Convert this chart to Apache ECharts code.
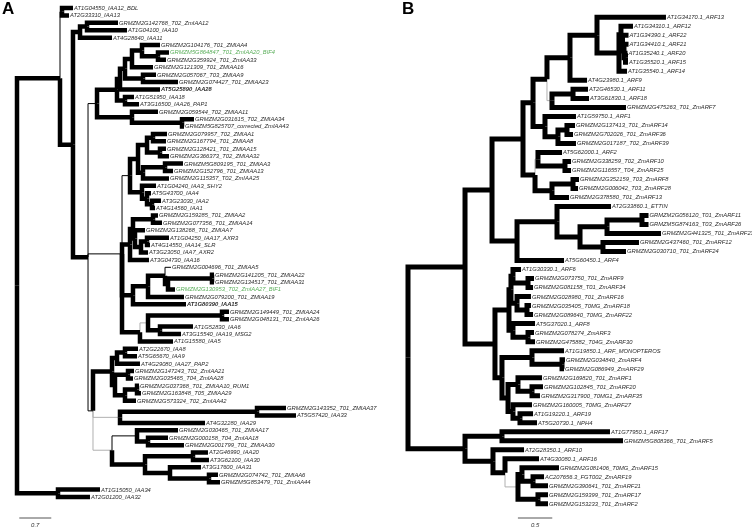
<!DOCTYPE html>
<html><head><meta charset="utf-8">
<script src="https://cdn.jsdelivr.net/npm/echarts@6/dist/echarts.min.js"></script>
<style>html,body{margin:0;padding:0;background:#fff}#c{width:752px;height:528px}</style>
</head><body><div id="c"></div>
<script>
// ---------- Panel A (Aux/IAA) ----------
const namesA = ["AT1G04550_IAA12_BDL","AT2G33310_IAA13","GRMZM2G142768_T02_ZmIAA12","AT1G04100_IAA10","AT4G28640_IAA11","GRMZM2G104176_T01_ZMIAA4","GRMZM5G864847_T01_ZmIAA20_BIF4","GRMZM2G359924_T01_ZmIAA33","GRMZM2G121309_T01_ZMIAA16","GRMZM2G057067_T03_ZMIAA9",
"GRMZM2G074427_T01_ZMIAA23","AT5G25890_IAA28","AT1G51950_IAA18","AT3G16500_IAA26_PAP1","GRMZM2G059544_T02_ZMIAA11","GRMZM2G031615_T02_ZMIAA34","GRMZM5G825707_corrected_ZmIAA43","GRMZM2G079957_T02_ZMIAA1","GRMZM2G167794_T01_ZMIAA8","GRMZM2G128421_T01_ZMIAA15",
"GRMZM2G366373_T02_ZMIAA32","GRMZM5G809195_T01_ZMIAA3","GRMZM2G152796_T01_ZMIAA13","GRMZM2G115357_T02_ZmIAA25","AT1G04240_IAA3_SHY2","AT5G43700_IAA4","AT3G23030_IAA2","AT4G14560_IAA1","GRMZM2G159285_T01_ZMIAA2","GRMZM2G077356_T01_ZMIAA14",
"GRMZM2G138268_T01_ZMIAA7","AT1G04250_IAA17_AXR3","AT4G14550_IAA14_SLR","AT3G23050_IAA7_AXR2","AT3G04730_IAA16","GRMZM2G004696_T01_ZMIAA5","GRMZM2G141205_T01_ZMIAA22","GRMZM2G134517_T01_ZMIAA31","GRMZM2G130953_T02_ZmIAA27_BIF1","GRMZM2G079200_T01_ZMIAA19",
"AT1G80390_IAA15","GRMZM2G149449_T01_ZMIAA24","GRMZM2G048131_T01_ZmIAA26","AT1G52830_IAA6","AT3G15540_IAA19_MSG2","AT1G15580_IAA5","AT2G22670_IAA8","AT5G65670_IAA9","AT4G29080_IAA27_PAP2","GRMZM2G147243_T02_ZmIAA21",
"GRMZM2G035465_T04_ZmIAA28","GRMZM2G037368_T01_ZMIAA10_RUM1","GRMZM2G163848_T05_ZMIAA29","GRMZM2G573324_T02_ZmIAA42","GRMZM2G143352_T01_ZMIAA37","AT5G57420_IAA33","AT4G32280_IAA29","GRMZM2G030465_T01_ZMIAA17","GRMZM2G000158_T04_ZmIAA18","GRMZM2G001799_T01_ZMIAA30",
"AT2G46990_IAA20","AT3G62100_IAA30","AT3G17600_IAA31","GRMZM2G074742_T01_ZMIAA6","GRMZM5G853479_T01_ZmIAA44","AT1G15050_IAA34","AT2G01200_IAA32"];
const tipA = [1.225,1.138,2.210,2.407,2.079,3.129,3.326,3.260,2.976,3.042,
 3.523,3.129,2.560,2.670,3.085,3.873,3.654,3.282,3.260,3.260,
 3.326,3.632,3.414,3.326,3.042,2.932,3.151,3.020,3.085,3.173,
 2.801,3.326,2.910,2.867,2.888,3.370,4.311,4.311,3.457,3.654,
 3.698,4.639,4.639,3.851,3.589,3.414,2.648,2.626,2.691,2.560,
 2.538,2.670,2.713,2.604,5.886,6.105,4.114,3.523,3.304,3.654,
 4.179,4.201,4.026,4.398,4.442,1.816,1.597];
const leafParentA = [2,2,5,5,4,12,13,13,11,14,
 14,9,15,15,16,17,17,22,22,23,
 23,25,25,24,26,27,28,28,31,31,
 32,34,34,33,29,37,39,39,38,36,
 35,42,42,43,43,40,47,47,46,49,
 49,51,51,50,53,53,52,55,56,56,
 58,58,59,60,60,61,61];
const nodeDepthA = [0,0.941,0.985,1.225,1.379,1.532,1.554,1.751,2.188,2.254,
 2.363,2.516,2.735,3.085,2.757,2.363,2.516,3.611,2.298,2.473,
 2.648,2.845,2.976,3.129,2.757,3.239,2.735,2.845,2.954,2.473,
 2.538,2.976,2.582,2.713,2.845,2.538,2.867,3.239,3.304,4.267,
 2.691,2.867,4.486,3.129,1.663,2.079,2.188,2.363,2.144,2.429,
 2.363,2.626,2.254,5.252,2.079,2.626,2.867,2.801,3.851,3.348,
 4.201,0.897];
const nodeParentA = [-1,0,1,1,3,4,3,6,7,8,
 9,10,11,12,10,8,7,16,6,18,
 19,20,21,21,20,24,19,26,27,18,
 29,30,30,32,33,18,35,36,37,38,
 18,40,41,41,6,44,45,46,45,48,
 48,50,44,52,44,54,55,54,57,57,
 59,0];
// support class of the branch above each node: 3 strong, 1 weak, 0 unsupported
const nodeSupportA = [3,3,1,3,3,3,3,1,3,3,
 3,3,3,3,3,3,3,3,1,1,
 3,3,3,3,3,3,3,3,3,3,
 3,3,3,3,3,3,3,3,3,3,
 3,0,3,3,1,3,3,3,3,3,
 3,3,0,3,0,1,3,3,3,3,
 3,3];
const weakLeavesA = [35];
const boldA = [11,40];
const greenA = [6,38];
const scaleA = 0.7;

// ---------- Panel B (ARF) ----------
const namesB = ["AT1G34170.1_ARF13","AT1G34310.1_ARF12","AT1G34390.1_ARF22","AT1G34410.1_ARF21","AT1G35240.1_ARF20","AT1G35520.1_ARF15","AT1G35540.1_ARF14","AT4G23980.1_ARF9","AT2G46530.1_ARF11","AT3G61830.1_ARF18",
"GRMZM2G475263_T01_ZmARF7","AT1G59750.1_ARF1","GRMZM2G137413_T01_ZmARF14","GRMZM2G702026_T01_ZmARF36","GRMZM2G017187_T02_ZmARF39","AT5G62000.1_ARF2","GRMZM2G338259_T02_ZmARF10","GRMZM2G116557_T04_ZmARF25","GRMZM2G352159_T03_ZmARF8","GRMZM2G006042_T03_ZmARF28",
"GRMZM2G378580_T01_ZmARF13","AT2G33860.1_ETTIN","GRMZM2G056120_T01_ZmARF11","GRMZM5G874163_T03_ZmARF26","GRMZM2G441325_T01_ZmARF23","GRMZM2G437460_T01_ZmARF12","GRMZM2G030710_T01_ZmARF24","AT5G60450.1_ARF4","AT1G30330.1_ARF6","GRMZM2G073750_T01_ZmARF9",
"GRMZM2G081158_T01_ZmARF34","GRMZM2G028980_T01_ZmARF16","GRMZM2G035405_T0MG_ZmARF18","GRMZM2G089640_T0MG_ZmARF22","AT5G37020.1_ARF8","GRMZM2G078274_ZmARF3","GRMZM2G475882_T04G_ZmARF30","AT1G19850.1_ARF_MONOPTEROS","GRMZM2G034840_ZmARF4","GRMZM2G086949_ZmARF29",
"GRMZM2G169820_T01_ZmARF1","GRMZM2G102845_T01_ZmARF20","GRMZM2G317900_T0MG1_ZmARF35","GRMZM2G160005_T0MG_ZmARF27","AT1G19220.1_ARF19","AT5G20730.1_NPH4","AT1G77950.1_ARF17","GRMZM5G808366_T01_ZmARF5","AT2G28350.1_ARF10","AT4G30080.1_ARF16",
"GRMZM2G081406_T0MG_ZmARF15","AC207656.3_FGT002_ZmARF19","GRMZM2G390641_T01_ZmARF21","GRMZM2G159399_T01_ZmARF17","GRMZM2G153233_T01_ZmARF2"];
const tipB = [3.755,3.275,3.210,3.210,3.195,3.202,3.188,2.606,2.620,2.635,
 3.173,2.445,2.431,2.402,2.445,2.242,2.373,2.373,2.489,2.475,
 2.344,2.955,3.501,3.501,3.683,3.362,3.173,2.271,1.645,1.834,
 1.820,1.790,1.790,1.820,1.849,1.834,1.849,2.271,2.285,2.271,
 1.951,1.965,1.921,1.805,1.820,1.878,2.940,3.130,1.689,1.907,
 2.198,1.980,2.038,2.038,2.038];
const leafParentB = [7,9,10,11,12,12,8,6,14,14,
 13,15,17,17,16,19,20,20,22,22,
 21,24,27,27,26,28,28,23,32,33,
 33,34,35,35,36,37,37,39,40,40,
 42,43,43,44,45,45,47,47,48,49,
 51,52,52,53,53];
const nodeDepthB = [0,0.830,1.223,1.674,1.820,2.023,2.358,2.751,3.071,3.100,
 3.122,3.144,3.166,2.096,2.402,1.994,2.183,2.314,1.849,1.892,
 2.285,2.096,2.402,1.587,2.169,2.504,2.897,3.406,2.838,1.266,
 1.470,1.499,1.528,1.747,1.587,1.732,1.528,1.747,1.368,1.805,
 2.242,1.456,1.601,1.805,1.528,1.630,0.830,1.368,1.237,1.412,
 1.601,1.659,1.820,1.892];
const nodeParentB = [-1,0,1,2,3,4,5,6,7,8,
 9,10,11,5,13,4,15,16,3,18,
 19,18,21,2,23,24,25,26,25,1,
 29,30,31,32,31,34,30,36,29,38,
 39,38,41,42,41,44,0,46,46,48,
 49,50,51,50];
const nodeSupportB = [3,3,3,3,3,3,3,3,3,3,
 3,3,3,0,3,3,3,3,3,0,
 3,3,3,3,3,3,3,3,3,3,
 3,3,3,3,3,3,3,3,3,3,
 3,3,3,3,3,3,3,3,3,3,
 0,3,3,3];
const weakLeavesB = [];
const scaleB = 0.5;

// ---------- build tree geometry from the arrays ----------
function buildTree(names, tips, leafParent, nodeDepth, nodeParent, nodeSupport, weakLeaves) {
  const nN = nodeDepth.length;
  const kids = Array.from({length: nN}, () => []);
  leafParent.forEach((p, i) => kids[p].push({leaf: true, i}));
  nodeParent.forEach((p, j) => { if (p >= 0) kids[p].push({leaf: false, i: j}); });
  const nodeY = new Array(nN).fill(null);
  function y(n) {
    if (nodeY[n] !== null) return nodeY[n];
    let lo = Infinity, hi = -Infinity;
    kids[n].forEach(k => { const v = k.leaf ? k.i : y(k.i); lo = Math.min(lo, v); hi = Math.max(hi, v); });
    return (nodeY[n] = (lo + hi) / 2);
  }
  for (let n = 0; n < nN; n++) y(n);
  const br = [];
  nodeParent.forEach((p, j) => { if (p >= 0) br.push([nodeDepth[p], nodeY[p], nodeDepth[j], nodeY[j], nodeSupport[j]]); });
  leafParent.forEach((p, i) => br.push([nodeDepth[p], nodeY[p], tips[i], i, weakLeaves.includes(i) ? 1 : 3]));
  br.sort((a, b) => a[4] - b[4]);
  const labels = names.map((nm, i) => [tips[i], i, i]);
  return {br, labels};
}
const treeA = buildTree(namesA, tipA, leafParentA, nodeDepthA, nodeParentA, nodeSupportA, weakLeavesA);
const treeB = buildTree(namesB, tipB, leafParentB, nodeDepthB, nodeParentB, nodeSupportB, weakLeavesB);

const FONT = '"Liberation Sans", Arial, sans-serif';
function branchRender(thick) {
  return function (params, api) {
    const a = api.coord([api.value(0), api.value(1)]);
    const b = api.coord([api.value(2), api.value(3)]);
    const c = api.value(4);
    const w = c === 3 ? thick : (c === 2 ? 2.5 : 1);
    const col = c === 0 ? '#b0b0b0' : '#000';
    return {type: 'polyline', silent: true,
      shape: {points: [[a[0], a[1]], [a[0], b[1]], [b[0], b[1]]]},
      style: {stroke: col, lineWidth: w, fill: null, lineJoin: 'miter', lineCap: 'butt'}};
  };
}
function labelRender(names, bold, green) {
  return function (params, api) {
    const p = api.coord([api.value(0), api.value(1)]);
    const i = api.value(2);
    return {type: 'text', silent: true,
      style: {x: p[0] + 1, y: p[1] + 0.3, text: names[i], fill: green.includes(i) ? '#5aae5a' : '#2a2a2a',
        fontSize: 5.8, fontFamily: FONT, fontStyle: 'italic', fontWeight: bold.includes(i) ? 'bold' : 'normal',
        align: 'left', verticalAlign: 'middle'}};
  };
}
function scaleRender(len, x0, yPix, txt) {
  return function (params, api) {
    const a = api.coord([x0, 0]);
    const b = api.coord([x0 + len, 0]);
    return {type: 'group', silent: true, children: [
      {type: 'line', shape: {x1: a[0], y1: yPix, x2: b[0], y2: yPix}, style: {stroke: '#555', lineWidth: 1}},
      {type: 'text', style: {x: (a[0] + b[0]) / 2, y: yPix + 7, text: txt, fill: '#333', fontSize: 6, fontFamily: FONT, fontStyle: 'italic', align: 'center', verticalAlign: 'middle'}}
    ]};
  };
}

const chart = echarts.init(document.getElementById('c'), null, {renderer: 'canvas'});
const hiddenX = (g, max) => ({type: 'value', gridIndex: g, min: 0, max: max, show: false});
const hiddenY = (g, max) => ({type: 'value', gridIndex: g, min: 0, max: max, inverse: true, show: false});
chart.setOption({
  animation: false,
  backgroundColor: '#fff',
  grid: [
    {left: 17, top: 8, width: 457, height: 489},
    {left: 408, top: 17.3, width: 343.5, height: 486.5}
  ],
  xAxis: [hiddenX(0, 10), hiddenX(1, 5)],
  yAxis: [hiddenY(0, namesA.length - 1), hiddenY(1, namesB.length - 1)],
  graphic: [
    {type: 'text', left: 2, top: 1, style: {text: 'A', fontSize: 17, fontWeight: 'bold', fontFamily: FONT, fill: '#000'}},
    {type: 'text', left: 402, top: 1, style: {text: 'B', fontSize: 17, fontWeight: 'bold', fontFamily: FONT, fill: '#000'}}
  ],
  series: [
    {type: 'custom', xAxisIndex: 0, yAxisIndex: 0, clip: false, renderItem: branchRender(4.5), data: treeA.br, encode: {x: [0, 2], y: [1, 3]}},
    {type: 'custom', xAxisIndex: 0, yAxisIndex: 0, clip: false, renderItem: labelRender(namesA, boldA, greenA), data: treeA.labels, encode: {x: 0, y: 1}},
    {type: 'custom', xAxisIndex: 0, yAxisIndex: 0, clip: false, renderItem: scaleRender(scaleA, 0.05, 518, String(scaleA)), data: [[0, 0]]},
    {type: 'custom', xAxisIndex: 1, yAxisIndex: 1, clip: false, renderItem: branchRender(5), data: treeB.br, encode: {x: [0, 2], y: [1, 3]}},
    {type: 'custom', xAxisIndex: 1, yAxisIndex: 1, clip: false, renderItem: labelRender(namesB, [], []), data: treeB.labels, encode: {x: 0, y: 1}},
    {type: 'custom', xAxisIndex: 1, yAxisIndex: 1, clip: false, renderItem: scaleRender(scaleB, 1.6, 518, String(scaleB)), data: [[0, 0]]}
  ]
});
</script></body></html>
